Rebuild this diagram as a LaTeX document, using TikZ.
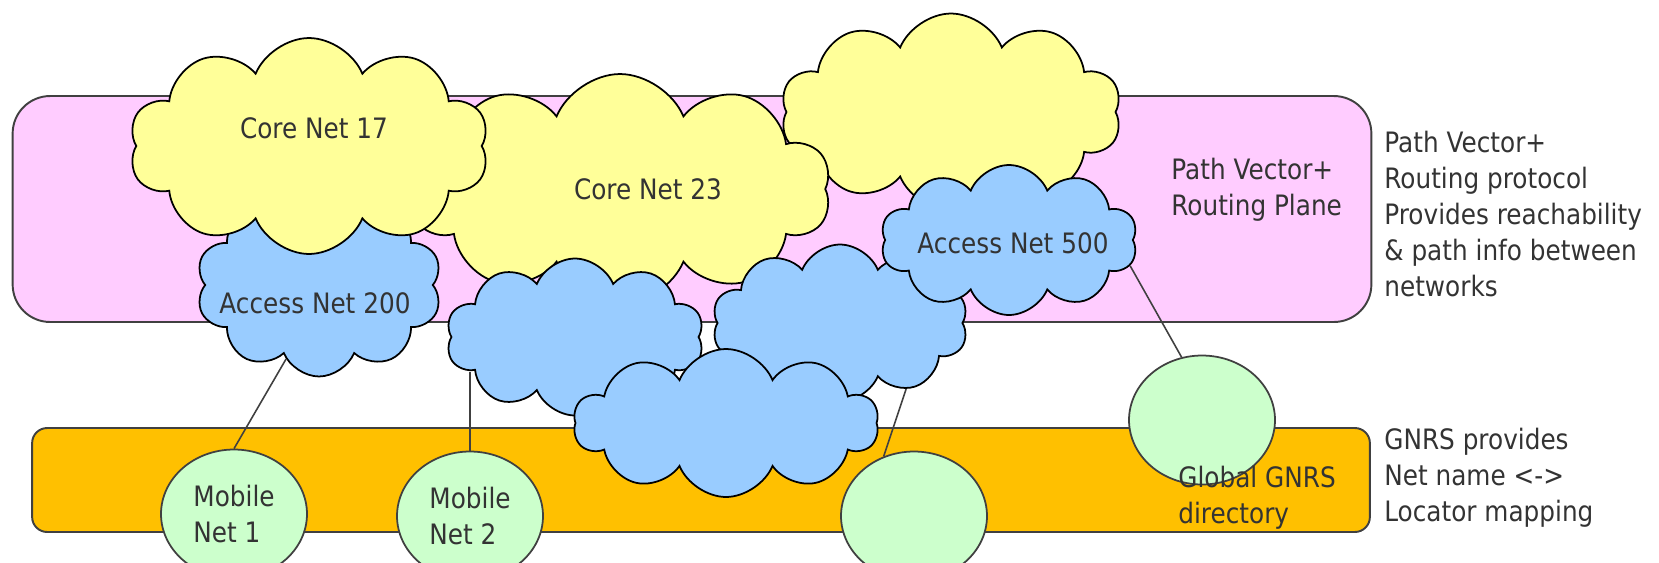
\documentclass[tikz,border=0pt]{standalone}
\usepackage{fontspec}
\setmainfont{DejaVu Sans}[FakeStretch=0.88]
\usetikzlibrary{shapes.symbols, shapes.geometric}
\definecolor{planepink}{HTML}{FFCCFF}
\definecolor{gnrsorange}{HTML}{FFC000}
\definecolor{coreyellow}{HTML}{FFFF99}
\definecolor{accessblue}{HTML}{99CCFF}
\definecolor{mobilegreen}{HTML}{CCFFCC}
\definecolor{edgegray}{HTML}{404040}
\definecolor{textgray}{HTML}{333333}
\tikzstyle{plane} = [rectangle, draw=edgegray, line width=1.1pt, inner sep=0pt]
\tikzstyle{ycloud} = [cloud, draw, fill=coreyellow, line width=1pt, cloud puffs=10, cloud puff arc=135, cloud ignores aspect, inner sep=0pt]
\tikzstyle{bcloud} = [cloud, draw, fill=accessblue, line width=1pt, cloud puffs=10, cloud puff arc=135, cloud ignores aspect, inner sep=0pt]
\tikzstyle{mnet} = [ellipse, draw=edgegray, fill=mobilegreen, line width=1pt, minimum width=2.92cm, minimum height=2.58cm, align=left, inner sep=0pt]
\tikzstyle{note} = [align=left, inner sep=0pt, text=textgray]
\tikzstyle{link} = [draw, line width=0.9pt, color=edgegray]

\begin{document}
\begin{tikzpicture}[x=0.02cm, y=-0.02cm, font=\fontsize{16}{20.5}\selectfont, text=textgray]
    \useasboundingbox (0,0) rectangle (1659,562);
    % Place planes
    \node [plane, fill=planepink, rounded corners=0.75cm, minimum width=27.18cm, minimum height=4.52cm] (routing) at (692,209) {};
    \node [plane, fill=gnrsorange, rounded corners=0.3cm, minimum width=26.76cm, minimum height=2.08cm] (gnrs) at (701,480) {};
    % Place clouds
    \node [ycloud, minimum width=6.82cm, minimum height=3.94cm] (coreTR) at (951,112) {};
    \node [ycloud, minimum width=8.44cm, minimum height=4.6cm] (core23) at (620,189) {};
    \node [bcloud, minimum width=4.92cm, minimum height=3.66cm] (acc200) at (319,285) {};
    \node [ycloud, minimum width=7.2cm, minimum height=4.32cm] (core17) at (309,146) {};
    \node [bcloud, minimum width=5.16cm, minimum height=3.14cm] (accML) at (575,337) {};
    \node [bcloud, minimum width=5.12cm, minimum height=3.14cm] (accMR) at (840,323) {};
    \node [bcloud, minimum width=5.14cm, minimum height=3.0cm] (acc500) at (1009,240) {};
    \node [bcloud, minimum width=6.1cm, minimum height=2.96cm] (accBot) at (726,423) {};
    % Place mobile nets
    \node [mnet] (mob1) at (234,514) {Mobile\\Net 1};
    \node [mnet] (mob2) at (470,516) {Mobile\\Net 2};
    \node [mnet] (mob3) at (914,516) {};
    \node [mnet] (mob4) at (1202,420) {};
    % Draw edges
    \path [link] (acc200.-114) -- (mob1.north);
    \path [link] (mob2.north |- accML.-161) -- (mob2.north);
    \path [link] (accMR.-45) -- (mob3.117);
    \path [link] (acc500.-12) -- (mob4.108);
    % Labels
    \node [note] (core17txt) at (314,128) {Core Net 17};
    \node [note] (core23txt) at (648,189) {Core Net 23};
    \node [note] (acc200txt) at (315,303) {Access Net 200};
    \node [note] (acc500txt) at (1013,243) {Access Net 500};
    \node [note, anchor=west] (routingtxt) at (1171,190) {Path Vector+\\Routing Plane};
    \node [note, anchor=west] (gnrstxt) at (1178,498) {Global GNRS\\directory};
    \node [note, anchor=west] (routingnote) at (1384,214) {Path Vector+\\Routing protocol\\Provides reachability\\\& path info between\\networks};
    \node [note, anchor=west] (gnrsnote) at (1384,478) {GNRS provides\\Net name <->\\Locator mapping};
\end{tikzpicture}
\end{document}
